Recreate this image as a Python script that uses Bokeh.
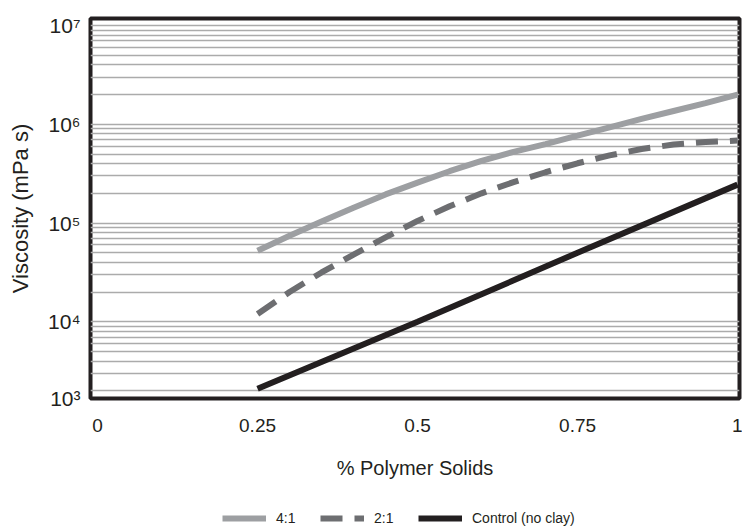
from bokeh.plotting import figure
from bokeh.layouts import column
from bokeh.models import Range1d, FixedTicker, Legend, LegendItem
from bokeh.embed import file_html
from bokeh.resources import INLINE

# % polymer solids (fraction) and viscosity (mPa s) for each formulation
solids = [0.25, 0.30, 0.35, 0.40, 0.45, 0.50, 0.55, 0.60,
          0.65, 0.70, 0.75, 0.80, 0.85, 0.90, 0.95, 1.00]
visc_4to1 = [5.25e4, 7.45e4, 1.035e5, 1.43e5, 1.95e5, 2.57e5, 3.35e5, 4.27e5,
             5.25e5, 6.31e5, 7.67e5, 9.33e5, 1.135e6, 1.365e6, 1.64e6, 2.0e6]
visc_2to1 = [1.2e4, 2.0e4, 3.16e4, 4.79e4, 7.16e4, 1.05e5, 1.48e5, 2.0e5,
             2.6e5, 3.27e5, 4.03e5, 4.84e5, 5.62e5, 6.24e5, 6.61e5, 6.84e5]
solids_control = [0.25, 0.50, 0.75, 1.00]
visc_control = [2.1e3, 1.0e4, 5.0e4, 2.45e5]

series_labels = ["4:1", "2:1", "Control (no clay)"]
x_ticks = [0, 0.25, 0.5, 0.75, 1]
x_tick_labels = ["0", "0.25", "0.5", "0.75", "1"]
y_bottom = 1670
y_ticks = [y_bottom, 1e4, 1e5, 1e6, 1e7]
y_tick_labels = ["10³", "10⁴", "10⁵", "10⁶", "10⁷"]

FONT = "Liberation Sans"
INK = "#231f20"
STYLES = [dict(line_color="#9d9fa2", line_width=6),
          dict(line_color="#6d6e71", line_width=6, line_dash="22 12"),
          dict(line_color=INK, line_width=6)]

p = figure(frame_width=649, frame_height=380, y_axis_type="log",
           x_range=Range1d(-0.011, 1.003), y_range=Range1d(y_bottom, 1.18e7),
           output_backend="svg", toolbar_location=None,
           min_border_left=90, min_border_right=3, min_border_top=18,
           min_border_bottom=100)

p.background_fill_color = "white"
p.border_fill_color = "white"
p.outline_line_color = INK
p.outline_line_width = 4

# horizontal log grid: decades plus 2..9 subdivisions
decades = [1e3, 1e4, 1e5, 1e6, 1e7]
minor = [k * d for d in decades[:-1] for k in range(2, 10)]
p.xgrid.visible = False
p.ygrid.ticker = FixedTicker(ticks=decades, minor_ticks=minor)
p.ygrid.grid_line_color = "#ababab"
p.ygrid.grid_line_width = 1.3
p.ygrid.minor_grid_line_color = "#ababab"
p.ygrid.minor_grid_line_width = 1.3

p.line(solids, visc_4to1, **STYLES[0])
p.line(solids, visc_2to1, **STYLES[1])
p.line(solids_control, visc_control, **STYLES[2])

for ax in (p.xaxis[0], p.yaxis[0]):
    ax.axis_line_color = None
    ax.major_tick_line_color = None
    ax.minor_tick_line_color = None
    ax.major_label_text_font = FONT
    ax.major_label_text_color = INK
    ax.axis_label_text_font = FONT
    ax.axis_label_text_font_style = "normal"
    ax.axis_label_text_color = INK

p.xaxis.ticker = FixedTicker(ticks=x_ticks)
p.xaxis.major_label_overrides = dict(zip(x_ticks, x_tick_labels))
p.xaxis.major_label_text_font_size = "19px"
p.xaxis.major_label_standoff = 14
p.xaxis.axis_label = "% Polymer Solids"
p.xaxis.axis_label_text_font_size = "20px"
p.xaxis.axis_label_standoff = 22

p.yaxis.ticker = FixedTicker(ticks=y_ticks)
p.yaxis.major_label_overrides = dict(zip(y_ticks, y_tick_labels))
p.yaxis.major_label_text_font_size = "21px"
p.yaxis.major_label_standoff = 4
p.yaxis.axis_label = "Viscosity (mPa s)"
p.yaxis.axis_label_text_font_size = "22px"
p.yaxis.axis_label_standoff = 12

# legend row as its own strip under the chart, using the same line styles;
# its borders match the chart so both frames line up in the column
key = figure(width=742, height=28, x_range=Range1d(0, 1), y_range=Range1d(0, 1),
             output_backend="svg", toolbar_location=None,
             x_axis_type=None, y_axis_type=None,
             min_border_left=90, min_border_right=3,
             min_border_top=0, min_border_bottom=0)
key.outline_line_color = None
key.grid.visible = False
# one off-range point per series: nothing is drawn, the legend reads the style
key_lines = [key.line([-1], [-1], **s) for s in STYLES]

legend = Legend(items=[LegendItem(label=lab, renderers=[r])
                       for lab, r in zip(series_labels, key_lines)],
                orientation="horizontal", location=(132, 0),
                border_line_color=None, background_fill_alpha=0,
                glyph_width=44, glyph_height=14, label_standoff=10,
                label_height=16, spacing=24, padding=2, margin=0,
                label_text_font=FONT, label_text_font_size="14px",
                label_text_color=INK)
key.add_layout(legend)

page = column(p, key, spacing=0)
open("out.html", "w").write(file_html(page, INLINE))
